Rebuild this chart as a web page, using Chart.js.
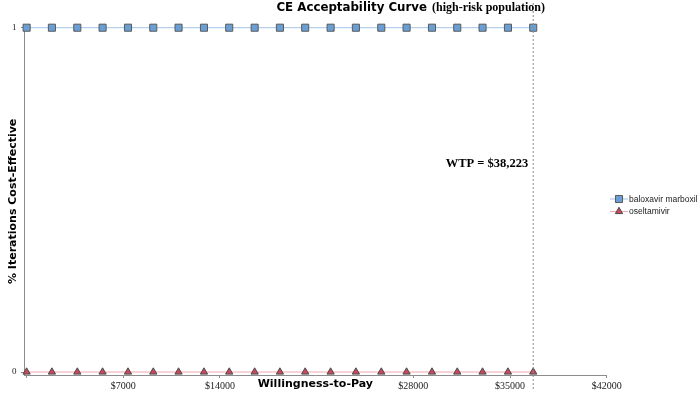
<!DOCTYPE html>
<html>
<head>
<meta charset="utf-8">
<script src="https://cdn.jsdelivr.net/npm/chart.js@4"></script>
<style>
  html, body { margin: 0; padding: 0; background: #fff; }
  #wrap { width: 699px; height: 393px; position: relative; }
</style>
</head>
<body>
<div id="wrap"><canvas id="chart"></canvas></div>
<script>
// willingness-to-pay points (x) and share of iterations cost-effective
const wtpValues = [0, 1830, 3670, 5500, 7340, 9170, 11000, 12840, 14670, 16510, 18340,
  20170, 22010, 23840, 25680, 27510, 29350, 31180, 33010, 34850, 36680];
const baloxavirShare = [1, 1, 1, 1, 1, 1, 1, 1, 1, 1, 1, 1, 1, 1, 1, 1, 1, 1, 1, 1, 1];
const oseltamivirShare = [0, 0, 0, 0, 0, 0, 0, 0, 0, 0, 0, 0, 0, 0, 0, 0, 0, 0, 0, 0, 0];
const xTicks = [0, 7000, 14000, 28000, 35000, 42000];
const xTickLabels = ["", "$7000", "$14000", "$28000", "$35000", "$42000"];
const yTicks = [0, 1];
const wtpLine = 36680;
const wtpLabel = "WTP = $38,223";
const seriesNames = ["baloxavir marboxil", "oseltamivir"];

const toPoints = (ys) => wtpValues.map((x, i) => ({ x: x, y: ys[i] }));

// title, threshold line and legend
const extras = {
    id: "extras",
    afterDatasetsDraw(chart) {
        const { ctx, scales } = chart;
        const xp = scales.x.getPixelForValue(wtpLine);
        ctx.save();
        ctx.strokeStyle = "#8a8a8a";
        ctx.lineWidth = 1;
        ctx.setLineDash([2, 2]);
        ctx.beginPath();
        ctx.moveTo(xp, 3);
        ctx.lineTo(xp, 389);
        ctx.stroke();
        ctx.setLineDash([]);

        ctx.fillStyle = "#000";
        ctx.textBaseline = "middle";
        ctx.font = "bold 12.5px 'Liberation Serif'";
        ctx.textAlign = "right";
        ctx.fillText(wtpLabel, xp - 5, 164);

        ctx.font = "bold 11.8px 'DejaVu Sans'";
        ctx.textAlign = "right";
        ctx.fillText("CE Acceptability Curve", 427, 8);
        ctx.font = "bold 12px 'Liberation Serif'";
        ctx.textAlign = "left";
        ctx.fillText("(high-risk population)", 432, 8);

        // legend
        const rows = [199, 211.5];
        chart.data.datasets.forEach((ds, i) => {
            const y = rows[i];
            ctx.strokeStyle = ds.borderColor;
            ctx.lineWidth = 1;
            ctx.beginPath();
            ctx.moveTo(610, y);
            ctx.lineTo(628, y);
            ctx.stroke();
            ctx.fillStyle = ds.pointBackgroundColor;
            ctx.strokeStyle = ds.pointBorderColor;
            Chart.helpers.drawPoint(ctx, {
                pointStyle: ds.pointStyle,
                radius: ds.pointRadius,
                borderWidth: 1,
                rotation: 0
            }, 619, y);
            ctx.fillStyle = "#222";
            ctx.font = "8.5px 'Liberation Sans'";
            ctx.textAlign = "left";
            ctx.fillText(seriesNames[i], 629, y + 0.5);
        });
        ctx.restore();
    }
};

new Chart(document.getElementById("chart"), {
    type: "line",
    data: {
        datasets: [
            {
                label: seriesNames[0],
                data: toPoints(baloxavirShare),
                borderColor: "#a3c4ea",
                borderWidth: 1,
                pointStyle: "rect",
                pointRadius: 5,
                pointBackgroundColor: "#6a9fd6",
                pointBorderColor: "#5a5a5a",
                pointBorderWidth: 1,
                clip: false
            },
            {
                label: seriesNames[1],
                data: toPoints(oseltamivirShare),
                borderColor: "#f0a8b0",
                borderWidth: 1,
                pointStyle: "triangle",
                pointRadius: 4.2,
                pointBackgroundColor: "#c9485e",
                pointBorderColor: "#4a4a4a",
                pointBorderWidth: 1,
                clip: false
            }
        ]
    },
    options: {
        responsive: true,
        maintainAspectRatio: false,
        animation: false,
        layout: { padding: { top: 27.7, right: 92.3, bottom: 0, left: 0 } },
        plugins: {
            legend: { display: false },
            tooltip: { enabled: false }
        },
        scales: {
            x: {
                type: "linear",
                min: -190,
                max: 42000,
                afterBuildTicks: (s) => { s.ticks = xTicks.map((v) => ({ value: v })); },
                afterFit: (s) => { s.height = 18; },
                ticks: {
                    autoSkip: false,
                    maxRotation: 0,
                    padding: 2,
                    color: "#222",
                    font: { family: "'Liberation Serif'", size: 10 },
                    callback: (v, i) => xTickLabels[i]
                },
                grid: { drawOnChartArea: false, drawTicks: true, tickLength: 3, color: "#8c8c8c" },
                border: { display: true, color: "#8c8c8c" },
                title: {
                    display: true,
                    text: "Willingness-to-Pay",
                    color: "#000",
                    font: { family: "'DejaVu Sans'", size: 11, weight: "bold" },
                    padding: { top: 0, bottom: 2.4 }
                }
            },
            y: {
                min: -0.0087,
                max: 1,
                afterBuildTicks: (s) => { s.ticks = yTicks.map((v) => ({ value: v })); },
                afterFit: (s) => { s.width = 24; },
                ticks: {
                    padding: 4.5,
                    color: "#222",
                    font: { family: "'Liberation Serif'", size: 9 }
                },
                grid: { drawOnChartArea: false, drawTicks: true, tickLength: 3, color: "#8c8c8c" },
                border: { display: true, color: "#8c8c8c" },
                title: {
                    display: true,
                    text: "% Iterations Cost-Effective",
                    color: "#000",
                    font: { family: "'DejaVu Sans'", size: 11, weight: "bold" },
                    padding: { top: 6.4, bottom: 0 }
                }
            }
        }
    },
    plugins: [extras]
});
</script>
</body>
</html>
